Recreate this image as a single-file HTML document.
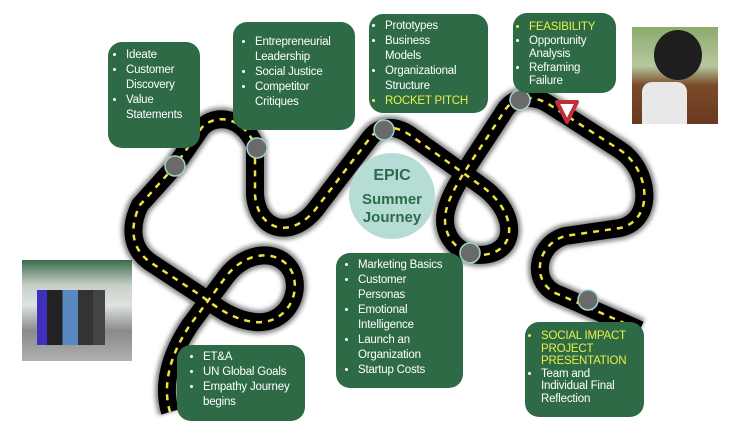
<!DOCTYPE html>
<html><head><meta charset="utf-8"><style>
body{margin:0;width:754px;height:444px;background:#fff;position:relative;overflow:hidden;font-family:"Liberation Sans",sans-serif}
.box{position:absolute;background:#2f6a46;border-radius:14px;color:#fff;font-size:11.5px;line-height:15px;box-sizing:border-box;padding:6px 6px 6px 8px;white-space:nowrap;letter-spacing:-0.2px}
.box ul{margin:0;padding:0 0 0 14px}
.box li{margin:0}
.y{color:#e8f04a}
.ph{position:absolute}
</style></head><body>
<svg width="754" height="444" style="position:absolute;left:0;top:0">
<defs><filter id="sh" x="-10%" y="-10%" width="120%" height="120%"><feGaussianBlur stdDeviation="2"/></filter>
<path id="rd" d="M170,412 C162,385 170,355 190,325 L225,278 C245,250 280,248 292,272 C302,295 285,325 255,322 C235,320 220,310 200,295 L150,262 C130,248 130,225 140,205 L175,166 L200,130 C210,115 240,112 255,145 L255,195 C258,230 290,240 315,210 L370,138 C380,125 395,125 410,135 L480,185 C510,205 520,240 495,252 C470,262 445,245 445,220 C445,195 470,165 505,110 C515,95 535,95 550,105 L620,150 C650,170 655,220 620,228 L565,236 C535,245 530,285 560,295 L640,330"/></defs>
<use href="#rd" fill="none" stroke="#888" stroke-width="24" filter="url(#sh)"/>
<use href="#rd" fill="none" stroke="#000" stroke-width="18"/>
<use href="#rd" fill="none" stroke="#f0e040" stroke-width="2.5" stroke-dasharray="6 6"/>
<g fill="#6a6a6a" stroke="#9fd4cc" stroke-width="1.5">
<circle cx="175" cy="166" r="10"/><circle cx="257" cy="148" r="10"/><circle cx="384" cy="130" r="10"/><circle cx="470" cy="253" r="10"/><circle cx="520" cy="100" r="10"/><circle cx="588" cy="300" r="10"/></g>
<polygon points="557,102 577,102 567,122" fill="#fff" stroke="#c0303a" stroke-width="4" stroke-linejoin="round"/>
<circle cx="392" cy="196" r="43" fill="#b5ddd5"/>
<text x="392" y="180" text-anchor="middle" font-family="Liberation Sans" font-weight="bold" font-size="16" fill="#2e6a4c">EPIC</text>
<text x="392" y="204" text-anchor="middle" font-family="Liberation Sans" font-weight="bold" font-size="15" fill="#2e6a4c">Summer</text>
<text x="392" y="222" text-anchor="middle" font-family="Liberation Sans" font-weight="bold" font-size="15" fill="#2e6a4c">Journey</text>
</svg>
<div class="box" style="left:108px;top:42px;width:92px;height:106px;padding-left:4px"><ul><li>Ideate</li><li>Customer<br>Discovery</li><li>Value<br>Statements</li></ul></div>
<div class="box" style="left:233px;top:22px;width:122px;height:108px;padding-top:13px"><ul><li>Entrepreneurial<br>Leadership</li><li>Social Justice</li><li>Competitor<br>Critiques</li></ul></div>
<div class="box" style="left:369px;top:14px;width:119px;height:99px;padding-left:2px;padding-top:5px"><ul><li>Prototypes</li><li>Business<br>Models</li><li>Organizational<br>Structure</li><li class="y">ROCKET PITCH</li></ul></div>
<div class="box" style="left:513px;top:13px;width:103px;height:80px;padding-left:2px;line-height:13.5px;padding-top:8px"><ul><li class="y">FEASIBILITY</li><li>Opportunity<br>Analysis</li><li>Reframing<br>Failure</li></ul></div>
<div class="box" style="left:336px;top:253px;width:127px;height:135px;padding-top:5px"><ul><li>Marketing Basics</li><li>Customer<br>Personas</li><li>Emotional<br>Intelligence</li><li>Launch an<br>Organization</li><li>Startup Costs</li></ul></div>
<div class="box" style="left:177px;top:345px;width:128px;height:76px;padding-left:12px;padding-top:5px"><ul><li>ET&amp;A</li><li>UN Global Goals</li><li>Empathy Journey<br>begins</li></ul></div>
<div class="box" style="left:525px;top:322px;width:119px;height:95px;padding-left:2px;line-height:12.5px;padding-top:8px"><ul><li class="y">SOCIAL IMPACT<br>PROJECT<br>PRESENTATION</li><li>Team and<br>Individual Final<br>Reflection</li></ul></div>
<div class="ph" style="left:22px;top:260px;width:110px;height:101px;background:linear-gradient(180deg,#3a6a4a 0,#c8cfc8 25%,#dde3df 45%,#8a8a8a 70%,#b0b0b0 100%)">
<div style="position:absolute;left:15px;top:30px;width:85px;height:55px;background:linear-gradient(90deg,#4030c0 0 12%,#222 12% 30%,#5a88c0 30% 48%,#333 48% 66%,#444 66% 80%,transparent 80%)"></div></div>
<div class="ph" style="left:632px;top:27px;width:86px;height:97px;background:linear-gradient(180deg,#8aaa6a 0,#b8c8a0 40%,#7a4a2a 60%,#6a3a20 100%)">
<div style="position:absolute;left:22px;top:3px;width:48px;height:50px;border-radius:50%;background:#1e1e1e"></div>
<div style="position:absolute;left:10px;top:55px;width:45px;height:42px;background:#e8e8e8;border-radius:10px 10px 0 0"></div></div>
</body></html>
